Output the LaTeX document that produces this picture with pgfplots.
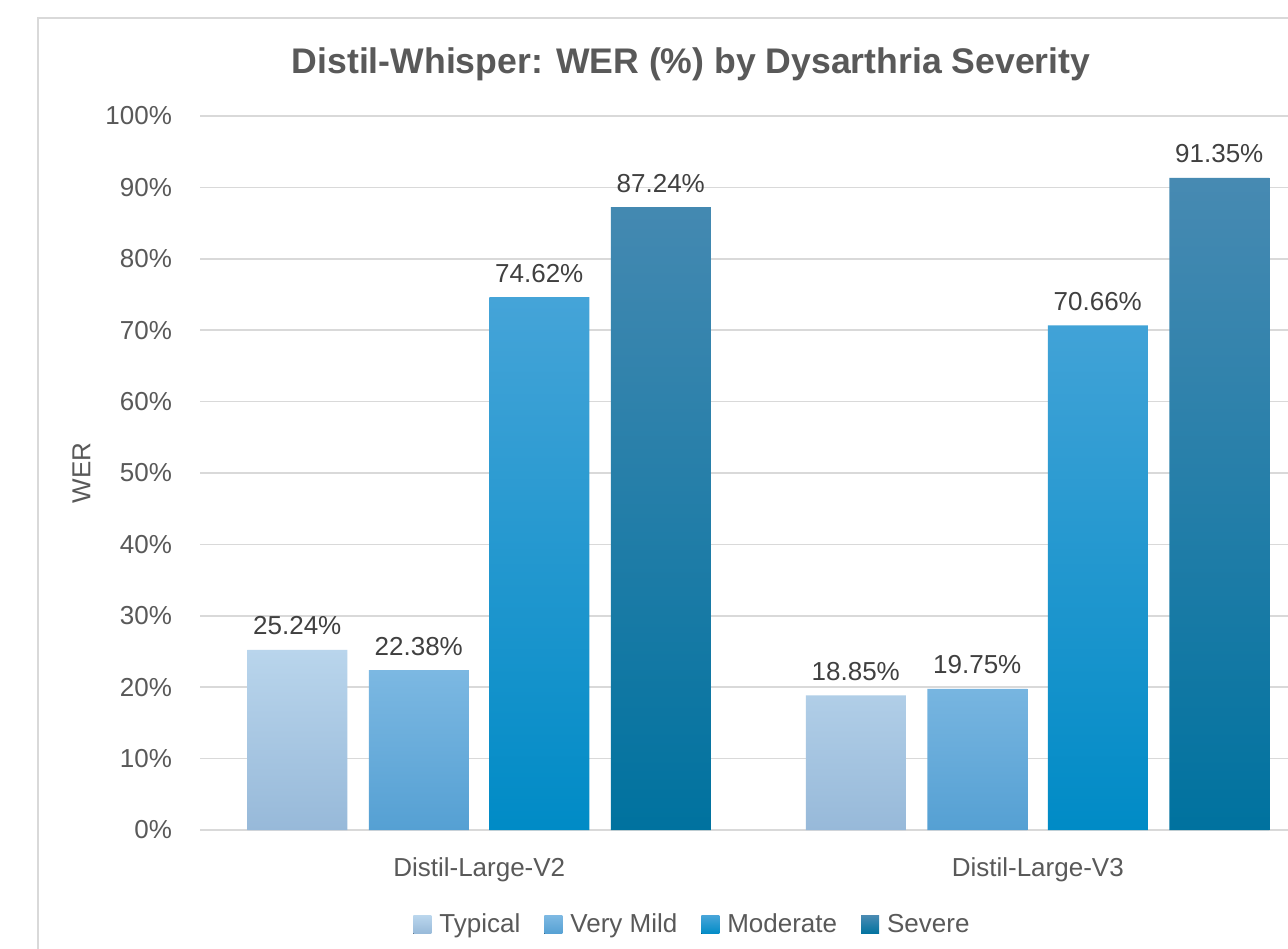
\documentclass[border=0pt]{standalone}
\usepackage{pgfplots}
\pgfplotsset{compat=1.18}
\usepackage{fontspec}
\setmainfont{Liberation Sans}
\definecolor{txt}{HTML}{595959}
\definecolor{lbl}{HTML}{404040}
\definecolor{gridc}{HTML}{D9D9D9}
\definecolor{frame}{HTML}{D9D9D9}
\definecolor{tyT}{HTML}{B9D5EC}\definecolor{tyB}{HTML}{97B9D9}
\definecolor{vmT}{HTML}{7CB8E2}\definecolor{vmB}{HTML}{55A0D3}
\definecolor{moT}{HTML}{45A4D8}\definecolor{moB}{HTML}{008BC6}
\definecolor{seT}{HTML}{478AB2}\definecolor{seB}{HTML}{00729F}
\begin{document}
\begin{tikzpicture}
\path[use as bounding box] (0,0) rectangle (644pt,474pt);
\clip (0,0) rectangle (644pt,474pt);
\fill[white] (0,0) rectangle (644pt,474pt);
\draw[draw=frame, line width=0.6pt] (19pt,-20pt) rectangle (700pt,465pt);
\begin{axis}[
  at={(100pt,59pt)}, anchor=south west,
  width=558.5pt, height=357pt, scale only axis,
  xmin=-0.5, xmax=1.5, ymin=0, ymax=100,
  xtick={0,1}, xticklabels={Distil-Large-V2,Distil-Large-V3},
  ytick={0,10,...,100},
  yticklabel={\pgfmathprintnumber{\tick}\%},
  /pgf/number format/assume math mode=true,
  ymajorgrids, grid style={draw=gridc, line width=0.75pt},
  axis line style={draw=none},
  major tick length=0pt,
  tick label style={font=\fontsize{13}{15}\selectfont, text=txt},
  yticklabel style={anchor=east, xshift=-10.5pt},
  xticklabel style={anchor=base, yshift=-23pt},
  ylabel={WER},
  ylabel style={at={(rel axis cs:-0.1061,0.5)}, anchor=center, font=\fontsize{13}{15}\selectfont, text=txt},
  title={Distil-Whisper: WER (\%) by Dysarthria Severity},
  title style={at={(rel axis cs:0.4396,1.0434)}, anchor=base, font=\bfseries\fontsize{17.8}{20}\selectfont, text=txt},
  nodes near coords={\pgfmathprintnumber[fixed,precision=2,fixed zerofill]{\pgfplotspointmeta}\%},
  every node near coord/.append style={anchor=base, yshift=7.5pt, font=\fontsize{13}{15}\selectfont, text=lbl},
  legend columns=4,
  legend style={at={(rel axis cs:0.4418,-0.133)}, anchor=center, draw=none, fill=none,
    font=\fontsize{13}{15}\selectfont, text=txt,
    /tikz/every even column/.append style={column sep=10pt}},
  legend image code/.code={\fill[#1] (0pt,-4.5pt) rectangle (9pt,4.5pt); \path (11pt,0pt);},
  clip=false,
]
\addplot[ybar, bar width=50pt, bar shift=-91pt, draw=none, top color=tyT, bottom color=tyB, shading=axis,
  every node near coord/.append style={xshift=-91pt}]
  coordinates {(0,25.24) (1,18.85)};
\addlegendentry{Typical}
\addplot[ybar, bar width=50pt, bar shift=-30.25pt, draw=none, top color=vmT, bottom color=vmB, shading=axis,
  every node near coord/.append style={xshift=-30.25pt}]
  coordinates {(0,22.38) (1,19.75)};
\addlegendentry{Very Mild}
\addplot[ybar, bar width=50pt, bar shift=30pt, draw=none, top color=moT, bottom color=moB, shading=axis,
  every node near coord/.append style={xshift=30pt}]
  coordinates {(0,74.62) (1,70.66)};
\addlegendentry{Moderate}
\addplot[ybar, bar width=50pt, bar shift=90.75pt, draw=none, top color=seT, bottom color=seB, shading=axis,
  every node near coord/.append style={xshift=90.75pt}]
  coordinates {(0,87.24) (1,91.35)};
\addlegendentry{Severe}
\end{axis}
\end{tikzpicture}
\end{document}
